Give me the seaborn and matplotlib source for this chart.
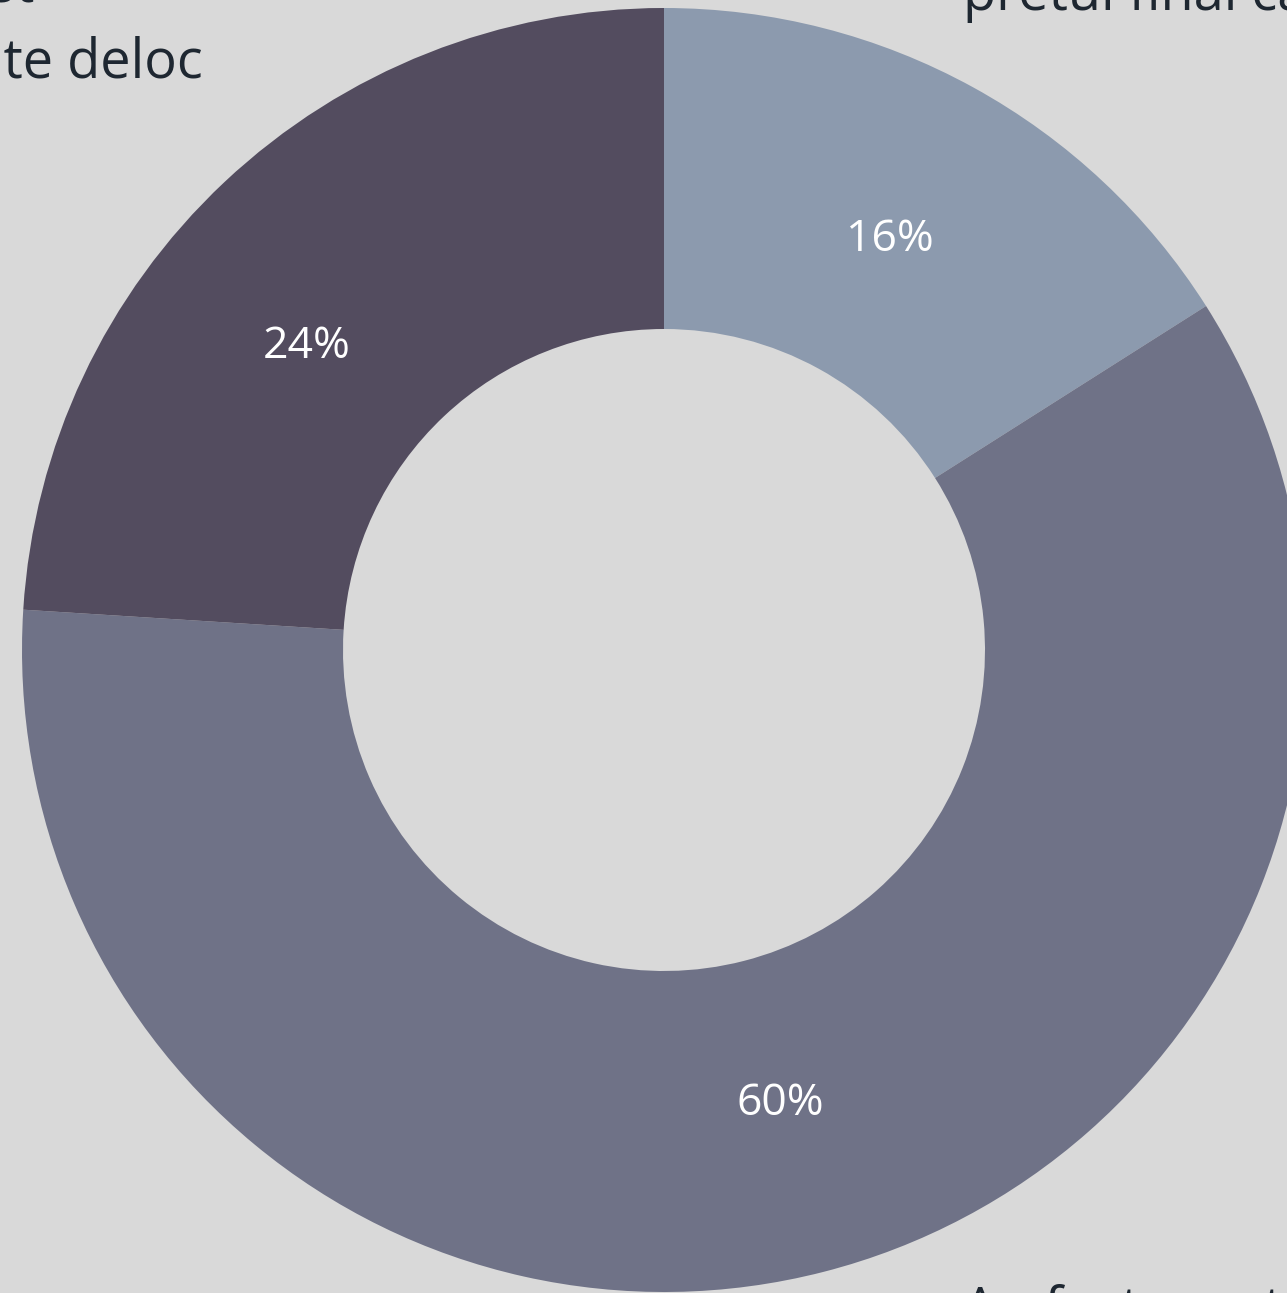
import numpy as np
import seaborn as sns
import matplotlib.pyplot as plt

categorii = ['Am observat ca\npretul final care', 'Au fost avertizati', 'Nu ma uit la cost\nsi nu ma intereseaza te deloc']
procente = [16, 60, 24]
culori = ['#8C9AAE', '#6F7287', '#534C5F']

sns.set_theme(style='white')
plt.rcParams['font.family'] = ['Open Sans', 'DejaVu Sans']
fundal = '#D9D9D9'
text_inchis = '#1E2731'

fig = plt.figure(figsize=(12.87, 12.93), dpi=100, facecolor=fundal)
ax = fig.add_axes([0, 0, 1, 1])
ax.set_facecolor(fundal)

wedges, _, autotexts = ax.pie(
    procente, colors=sns.color_palette(culori), startangle=90, counterclock=False,
    radius=1, wedgeprops=dict(width=0.5, linewidth=0),
    autopct=lambda p: f'{p:.0f}%', pctdistance=0.73,
    textprops=dict(color='white', fontsize=32),
)

# eticheta 24% e putin mai jos in original
x, y = autotexts[2].get_position()
r = np.hypot(x, y)
a = np.arctan2(y, x) + np.radians(6.5)
autotexts[2].set_position((r * np.cos(a), r * np.sin(a)))

ax.set_xlim(-664 / 642, 623 / 642)
ax.set_ylim(-643 / 642, 650 / 642)
ax.set_aspect('equal')
ax.axis('off')

# etichetele exterioare, taiate de marginea imaginii
fig.text(963 / 1287, 1 - 10 / 1293, categorii[0], ha='left', va='baseline',
         fontsize=39, color=text_inchis, linespacing=1.4)
fig.text(963 / 1287, 1 - 1283 / 1293, categorii[1], ha='left', va='top',
         fontsize=39, color=text_inchis)
rand1, rand2 = categorii[2].split('\n')
fig.text(34 / 1287, 1 - 2 / 1293, rand1, ha='right', va='baseline',
         fontsize=39, color=text_inchis)
fig.text(203 / 1287, 1 - 78 / 1293, rand2, ha='right', va='baseline',
         fontsize=39, color=text_inchis)

fig.savefig('out.png', dpi=100, facecolor=fundal)
